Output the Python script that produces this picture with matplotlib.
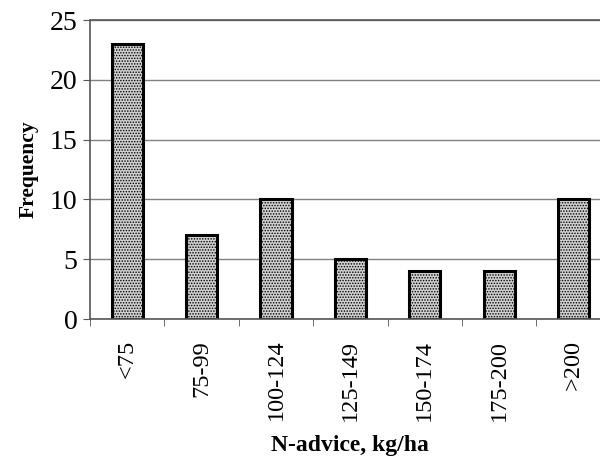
import matplotlib
matplotlib.use("Agg")
import matplotlib.pyplot as plt
import numpy as np

categories = ["<75", "75-99", "100-124", "125-149", "150-174", "175-200", ">200"]
frequency = [23, 7, 10, 5, 4, 4, 10]

plt.rcParams['font.family'] = ['Liberation Serif', 'DejaVu Serif']
plt.rcParams['hatch.color'] = '#606060'
plt.rcParams['hatch.linewidth'] = 0.7

fig = plt.figure(figsize=(6, 4.62), dpi=100)
ax = fig.add_axes([0.15, 0.3095, 0.868, 0.647])

x = np.arange(len(categories))
ax.set_axisbelow(True)
ax.yaxis.grid(True, color='#808080', linewidth=1)
ax.bar(x, frequency, width=0.42, facecolor='#d0d0d0', edgecolor='black',
       linewidth=2.2, hatch='......')

ax.set_xlim(-0.5, len(categories) - 0.5)
ax.set_ylim(0, 25)
ax.set_yticks(range(0, 26, 5))
ax.set_xticks(x)
ax.set_xticklabels(categories, rotation=90, fontsize=17.5)
ax.tick_params(axis='x', length=0, pad=15)
ax.set_xticks(np.arange(-0.5, len(categories) - 0.5, 1), minor=True)
ax.tick_params(axis='x', which='minor', length=5, direction='out', color='#555555')
ax.tick_params(axis='y', labelsize=20, length=5, color='#555555', pad=4)

for side in ['left', 'top', 'bottom']:
    ax.spines[side].set_color('#555555')
    ax.spines[side].set_linestyle((0, (1, 1)))
    ax.spines[side].set_linewidth(1.2)
ax.spines['right'].set_visible(False)

ax.set_ylabel("Frequency", fontsize=15.5, fontweight='bold', labelpad=8)
ax.set_xlabel("N-advice, kg/ha", fontsize=17, fontweight='bold', labelpad=10)

fig.savefig("out.png", dpi=100)
